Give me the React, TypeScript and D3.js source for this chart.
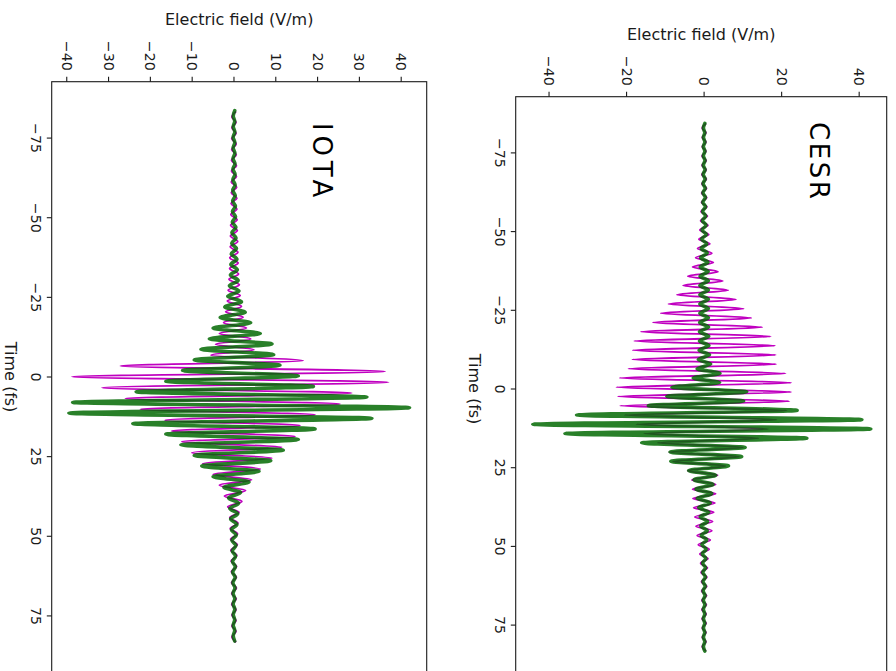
import React from 'react';
import * as d3 from 'd3';

// ---------- tick values ----------
const TIME_TICKS = [-75, -50, -25, 0, 25, 50, 75];
const IOTA_FIELD_TICKS = [-40, -30, -20, -10, 0, 10, 20, 30, 40];
const CESR_FIELD_TICKS = [-40, -20, 0, 20, 40];

// ---------- IOTA: extrema (turning points) of the field ----------
const IOTA_GREEN_START = -83.6; // fs, time of first turning point
const IOTA_GREEN_STEP = 1.665; // fs between turning points
const IOTA_GREEN = [
  0.18, -0.18, 0.18, -0.18, 0.2, -0.2, 0.2, -0.2, 0.22, -0.22, 0.24, -0.24, 0.26, -0.26, 0.28, -0.28,
  0.3, -0.32, 0.34, -0.36, 0.38, -0.4, 0.45, -0.5, 0.5, -0.55, 0.6, -0.65, 0.7, -0.75, 0.8, -0.85,
  1.0, -1.1, 1.2, -1.5, 1.8, -2.2, 2.7, -3.3, 4.0, -5.0,
  6.3, -5.9, 9.1, -7.9, 9.5, -9.5, 11.0, -12.3, 15.4, -16.3, 19.0, -23.4, 31.8, -38.6, 42.0, -39.5,
  33.0, -24.2, 19.4, -16.3, 15.4, -12.7, 11.8, -9.5, 8.8, -7.7, 6.0, -5.0, 3.6, -2.4, 1.6,
  -1.3, 1.1, -1.0, 0.9, -0.8, 0.7, -0.6, 0.55, -0.5, 0.45, -0.4, 0.38, -0.35, 0.32, -0.3, 0.28,
  -0.26, 0.24, -0.22, 0.2, -0.2, 0.2, -0.18, 0.18, -0.18, 0.18, -0.18, 0.18,
];

const IOTA_MAGENTA_START = -83.35;
const IOTA_MAGENTA_STEP = 1.7;
const IOTA_MAGENTA = [
  0.5, -0.5, 0.5, -0.5, 0.5, -0.55, 0.55, -0.55, 0.55, -0.6, 0.6, -0.6, 0.6, -0.65, 0.65, -0.65,
  0.7, -0.7, 0.7, -0.75, 0.75, -0.8, 0.8, -0.85, 0.9, -0.9, 0.95, -1.0, 1.0, -1.05,
  1.1, -1.2, 1.3, -1.4, 1.5, -1.6, 1.8, -2.0, 2.2, -2.5, 3.0, -3.5, 4.0, -4.4, 4.8, -5.5,
  16.6, -27.2, 36.2, -38.8, 37.0, -31.6, 28.2, -26.0, 25.4, -22.4, 19.4, -16.5, 15.8, -14.9, 14.6,
  -12.5, 11.4, -10.1, 9.1,
  -7.5, 6.3, -5.0, 4.2, -3.5, 2.8, -2.3, 1.9, -1.5, 1.2, -1.0, 0.95, -0.9, 0.85, -0.8, 0.8, -0.75,
  0.7, -0.7, 0.65, -0.65, 0.6, -0.6, 0.6, -0.55, 0.55, -0.55, 0.5, -0.5, 0.5, -0.5, 0.5, -0.5, 0.5,
];

// ---------- CESR ----------
const CESR_GREEN_START = -84.35;
const CESR_GREEN_STEP = 1.47;
const CESR_GREEN = [
  0.18, -0.18, 0.18, -0.18, 0.2, -0.2, 0.2, -0.2, 0.22, -0.22,
  0.24, -0.24, 0.26, -0.26, 0.28, -0.3, 0.32, -0.34, 0.36, -0.38,
  0.4, -0.45, 0.5, -0.55, 0.6, -0.65, 0.7, -0.75, 0.8, -0.9,
  1.0, -1.0, 1.05, -1.05, 1.1, -1.1, 1.1, -1.1, 1.1, -1.1,
  1.1, -1.1, 1.1, -1.15, 1.15, -1.2, 1.2, -1.2, 1.25, -1.3,
  1.4, -1.5, 1.7,
  -1.8, 4.1, -2.8, 4.0, -8.3, 11.0, -9.6, 10.2, -14.4, 24.0, -32.9, 40.7,
  -44.2, 43.0, -35.9, 26.5, -16.1, 10.6, -8.8, 9.7, -8.6, 6.3, -4.0,
  3.0, -2.6, 2.3, -2.1, 2.0, -1.8, 1.6, -1.4, 1.2, -1.0,
  0.9, -0.85, 0.8, -0.75, 0.7, -0.6, 0.55, -0.5, 0.45, -0.4,
  0.38, -0.35, 0.32, -0.3, 0.28, -0.26, 0.24, -0.22, 0.2, -0.2,
  0.18, -0.18, 0.18, -0.18, 0.18, -0.18, 0.18, -0.18, 0.18,
];

const CESR_MAGENTA_START = -84.32;
const CESR_MAGENTA_STEP = 1.47;
const CESR_MAGENTA = [
  0.5, -0.5, 0.5, -0.5, 0.5,
  -0.5, 0.5, -0.55, 0.55, -0.55,
  0.55, -0.6, 0.6, -0.6, 0.65,
  -0.65, 0.7, -0.7, 0.75, -0.8,
  0.85, -0.9, 1.0, -1.1, 1.2,
  -1.35, 1.5, -1.7, 2.0, -2.2,
  2.4, -3.0, 3.6, -4.2, 4.8,
  -5.4, 6.2, -7.0, 8.2, -9.2,
  10.2, -11.2, 12.2, -13.2, 15.0,
  -16.3, 17.2, -18.0, 18.3, -18.4,
  18.5, -18.5, 18.6, -19.5, 21.0,
  -21.8, 22.5, -22.6, 22.5, -22.2,
  22.0, -21.7, 21.3, -20.5, 18.7,
  -17.5, 16.5, -15.5, 14.0, -12.0,
  10.0, -9.0, 9.0, -8.0, 5.5,
  -4.2, 3.5, -3.2, 3.0, -3.0,
  3.0, -2.9, 2.8, -2.7, 2.5,
  -2.4, 2.2, -2.1, 2.0, -1.8,
  1.6, -1.5, 1.3, -1.1, 1.0,
  -0.9, 0.85, -0.8, 0.75, -0.7,
  0.7, -0.65, 0.65, -0.6, 0.6,
  -0.6, 0.55, -0.55, 0.55, -0.5,
  0.5, -0.5, 0.5, -0.5, 0.5,
];

type Series = { start: number; step: number; values: number[] };
type PanelDef = {
  name: string;
  left: number; right: number; top: number; bottom: number;
  tDomain: [number, number];
  vDomain: [number, number];
  fieldTicks: number[];
  magenta: Series;
  green: Series;
  titleX: number; titleY: number; titleSpacing: number;
  fieldLabelY: number;
};

const PANELS: PanelDef[] = [
  {
    name: 'IOTA',
    left: 51.7, right: 426.7, top: 81.7, bottom: 672.3,
    tDomain: [-92.7, 92.7],
    vDomain: [-43.6, 46.1],
    fieldTicks: IOTA_FIELD_TICKS,
    magenta: { start: IOTA_MAGENTA_START, step: IOTA_MAGENTA_STEP, values: IOTA_MAGENTA },
    green: { start: IOTA_GREEN_START, step: IOTA_GREEN_STEP, values: IOTA_GREEN },
    titleX: 313, titleY: 123, titleSpacing: 4.8,
    fieldLabelY: 24.5,
  },
  {
    name: 'CESR',
    left: 515.7, right: 886.7, top: 96.7, bottom: 681.3,
    tDomain: [-92.85, 92.85],
    vDomain: [-48.6, 47.1],
    fieldTicks: CESR_FIELD_TICKS,
    magenta: { start: CESR_MAGENTA_START, step: CESR_MAGENTA_STEP, values: CESR_MAGENTA },
    green: { start: CESR_GREEN_START, step: CESR_GREEN_STEP, values: CESR_GREEN },
    titleX: 810, titleY: 122, titleSpacing: 2.6,
    fieldLabelY: 39.5,
  },
];

const FONT = 'DejaVu Sans';
const INK = '#1a1a1a';
const fmt = (v: number) => (v < 0 ? '\u2212' + Math.abs(v) : String(v));

function toPoints(s: Series): [number, number][] {
  return s.values.map((v, i) => [s.start + i * s.step, v]);
}

function Panel({ p }: { p: PanelDef }) {
  const y = d3.scaleLinear().domain(p.tDomain).range([p.top, p.bottom]);
  const x = d3.scaleLinear().domain(p.vDomain).range([p.left, p.right]);
  const line = d3
    .line<[number, number]>()
    .x((d) => x(d[1]))
    .y((d) => y(d[0]))
    .curve(d3.curveMonotoneY);
  const clipId = 'clip-' + p.name;
  const cx = (p.left + p.right) / 2;
  const cy = (p.top + p.bottom) / 2;
  return (
    <g>
      <defs>
        <clipPath id={clipId}>
          <rect x={p.left} y={p.top} width={p.right - p.left} height={p.bottom - p.top} />
        </clipPath>
      </defs>
      <g clipPath={`url(#${clipId})`}>
        <path d={line(toPoints(p.magenta)) || ''} fill="none" stroke="#c000c0" strokeWidth={1.8} strokeLinejoin="round" />
        <path d={line(toPoints(p.green)) || ''} fill="none" stroke="#006800" strokeOpacity={0.84} strokeWidth={3.6} strokeLinejoin="round" strokeLinecap="round" />
      </g>
      <rect x={p.left} y={p.top} width={p.right - p.left} height={p.bottom - p.top} fill="none" stroke={INK} strokeWidth={1.1} />
      {TIME_TICKS.map((t) => (
        <g key={'t' + t}>
          <line x1={p.left - 4.9} x2={p.left} y1={y(t)} y2={y(t)} stroke={INK} strokeWidth={1.1} />
          <text
            transform={`translate(${p.left - 20.5},${y(t)}) rotate(90)`}
            textAnchor="middle"
            fontFamily={FONT}
            fontSize={14.2}
            fill={INK}
          >
            {fmt(t)}
          </text>
        </g>
      ))}
      {p.fieldTicks.map((v) => (
        <g key={'v' + v}>
          <line x1={x(v)} x2={x(v)} y1={p.top - 4.9} y2={p.top} stroke={INK} strokeWidth={1.1} />
          <text
            transform={`translate(${x(v)},${p.top - 11}) rotate(90)`}
            textAnchor="end"
            dominantBaseline="central"
            fontFamily={FONT}
            fontSize={14.2}
            fill={INK}
          >
            {fmt(v)}
          </text>
        </g>
      ))}
      <text x={cx} y={p.fieldLabelY} textAnchor="middle" fontFamily={FONT} fontSize={16} fill={INK}>
        Electric field (V/m)
      </text>
      <text
        transform={`translate(${p.left - 46.3},${cy}) rotate(90)`}
        textAnchor="middle"
        fontFamily={FONT}
        fontSize={16}
        fill={INK}
      >
        Time (fs)
      </text>
      <text
        transform={`translate(${p.titleX},${p.titleY}) rotate(90)`}
        textAnchor="start"
        fontFamily={FONT}
        fontSize={26}
        letterSpacing={p.titleSpacing}
        fill="#000"
      >
        {p.name}
      </text>
    </g>
  );
}

export default function App() {
  return (
    <svg
      width={896}
      height={671}
      viewBox="0 0 896 671"
      style={{ position: 'absolute', left: 0, top: 0, background: '#fff' }}
    >
      <rect x={0} y={0} width={896} height={671} fill="#fff" />
      {PANELS.map((p) => (
        <Panel key={p.name} p={p} />
      ))}
    </svg>
  );
}
